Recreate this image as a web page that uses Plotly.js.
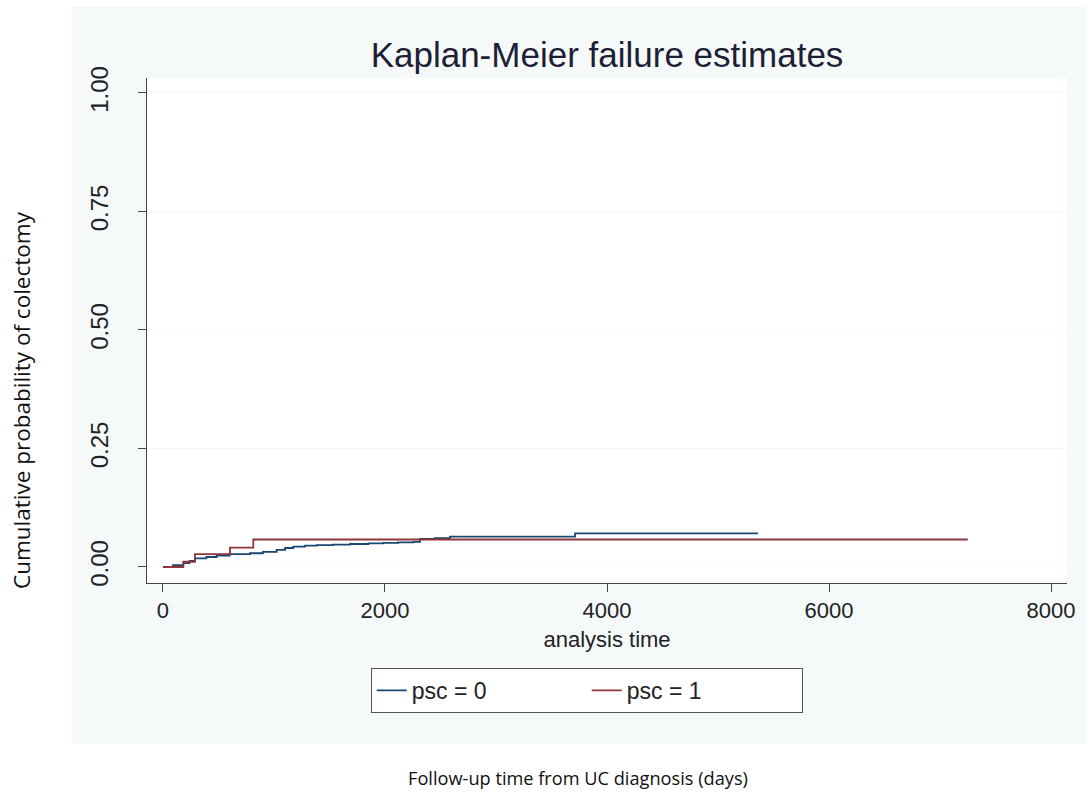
<!DOCTYPE html>
<html>
<head>
<meta charset="utf-8">
<script src="https://cdn.plot.ly/plotly-3.0.1.min.js"></script>
<style>html,body{margin:0;padding:0;background:#fff;}#chart{width:1086px;height:796px;}</style>
</head>
<body>
<div id="chart"></div>
<script>
// psc = 0 (Kaplan-Meier failure step function)
const psc0Time = [0, 90, 183, 240, 288, 390, 483, 600, 784, 900, 1024, 1100, 1174, 1280, 1384, 1530, 1685, 1850, 1985, 2120, 2255, 2315, 2450, 2586, 3712, 5360];
const psc0Fail = [0, 0.004, 0.008, 0.013, 0.018, 0.021, 0.024, 0.027, 0.029, 0.032, 0.036, 0.040, 0.043, 0.045, 0.046, 0.047, 0.0485, 0.050, 0.051, 0.052, 0.053, 0.059, 0.061, 0.064, 0.071, 0.071];
// psc = 1
const psc1Time = [0, 183, 288, 604, 814, 7250];
const psc1Fail = [0, 0.011, 0.027, 0.041, 0.058, 0.058];

const seriesNames = ["psc = 0", "psc = 1"];
const xTicks = [0, 2000, 4000, 6000, 8000];
const yTicks = [0, 0.25, 0.5, 0.75, 1];

const font = "Liberation Sans, Arial, sans-serif";

const traces = [
  {x: psc0Time, y: psc0Fail, name: seriesNames[0], type: "scatter", mode: "lines",
   line: {shape: "hv", color: "#1a476f", width: 1.8}},
  {x: psc1Time, y: psc1Fail, name: seriesNames[1], type: "scatter", mode: "lines",
   line: {shape: "hv", color: "#90353b", width: 1.8}}
];

const layout = {
  width: 1086, height: 796,
  margin: {l: 147, r: 19, t: 78, b: 213},
  paper_bgcolor: "#ffffff",
  plot_bgcolor: "#ffffff",
  font: {family: font, size: 22, color: "#222"},
  title: {text: "Kaplan-Meier failure estimates", font: {family: font, size: 35, color: "#1e1e35"},
          x: 0.5, xref: "paper", y: 1 - 55/796, yref: "container", yanchor: "middle"},
  xaxis: {
    range: [-144, 8144], tickvals: xTicks, ticktext: xTicks.map(String),
    showline: true, linecolor: "#444", linewidth: 1, mirror: false,
    ticks: "outside", ticklen: 8, tickcolor: "#444", showgrid: false, zeroline: false,
    tickfont: {family: font, size: 22, color: "#222"},
    title: {text: "analysis time", font: {family: font, size: 22, color: "#222"}, standoff: 9}
  },
  yaxis: {
    range: [-0.0338, 1.0316], tickvals: yTicks, tickformat: ".2f",
    showline: true, linecolor: "#444", linewidth: 1,
    ticks: "outside", ticklen: 8, tickcolor: "#444", tickangle: -90, ticklabelstandoff: 20,
    showgrid: true, gridcolor: "#f3f6f6", zeroline: false,
    tickfont: {family: font, size: 24, color: "#222"}
  },
  showlegend: true,
  legend: {orientation: "h", x: 0.478, xanchor: "center", y: -0.168, yanchor: "top",
           bgcolor: "#ffffff", bordercolor: "#555", borderwidth: 1,
           font: {family: font, size: 23, color: "#222"}, entrywidth: 170},
  shapes: [
    {type: "rect", xref: "paper", yref: "paper", x0: -0.0815, x1: 1.0207, y0: -0.3188, y1: 1.1406,
     fillcolor: "#f5f9fa", line: {width: 0}, layer: "below"},
    {type: "rect", xref: "paper", yref: "paper", x0: 0, x1: 1, y0: 0, y1: 1,
     fillcolor: "#ffffff", line: {width: 0}, layer: "below"}
  ],
  annotations: [
    {text: "Cumulative probability of colectomy", xref: "paper", yref: "paper",
     x: (21 - 147)/920, y: (583 - 400)/505, xanchor: "center", yanchor: "middle",
     textangle: -90, showarrow: false, font: {family: "Open Sans, sans-serif", size: 22.5, color: "#111"}},
    {text: "Follow-up time from UC diagnosis (days)", xref: "paper", yref: "paper",
     x: (578 - 147)/920, y: (583 - 778)/505, xanchor: "center", yanchor: "middle",
     showarrow: false, font: {family: "Open Sans, sans-serif", size: 18.2, color: "#111"}}
  ]
};

Plotly.newPlot("chart", traces, layout, {displayModeBar: false, staticPlot: true});
</script>
</body>
</html>
